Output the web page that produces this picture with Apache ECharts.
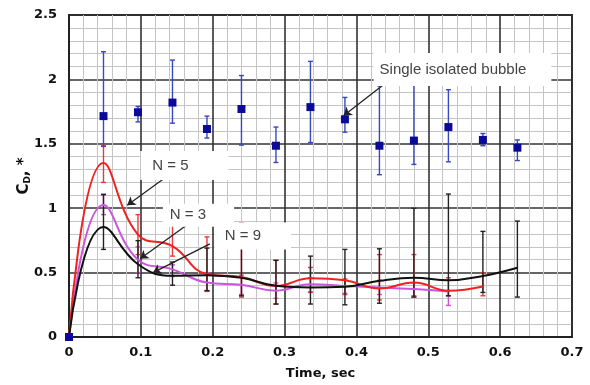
<!DOCTYPE html>
<html>
<head>
<meta charset="utf-8">
<script src="https://cdn.jsdelivr.net/npm/echarts@6/dist/echarts.min.js"></script>
<style>
  html, body { margin: 0; padding: 0; background: #fff; }
  #main { width: 590px; height: 385px; }
</style>
</head>
<body>
<div id="main"></div>
<script>
// sample times (sec)
const times = [0, 0.048, 0.096, 0.144, 0.192, 0.240, 0.288, 0.336, 0.384, 0.432, 0.480, 0.528, 0.576, 0.624];

// single isolated bubble
const bubbleY  = [0, 1.715, 1.745, 1.82, 1.615, 1.77, 1.485, 1.785, 1.69, 1.485, 1.525, 1.63, 1.53, 1.47];
const bubbleHi = [null, 2.215, 1.79, 2.15, 1.715, 2.03, 1.63, 2.14, 1.86, 1.95, 1.985, 1.92, 1.58, 1.53];
const bubbleLo = [null, 1.48, 1.67, 1.66, 1.545, 1.49, 1.355, 1.51, 1.59, 1.26, 1.34, 1.36, 1.485, 1.37];

// N = 5
const n5Y  = [0, 1.35, 0.795, 0.705, 0.487, 0.465, 0.397, 0.456, 0.44, 0.377, 0.423, 0.359, 0.392];
const n5Hi = [null, 1.49, 0.95, 0.87, 0.777, 0.885, 0.595, 0.54, 0.45, 0.64, 0.64, 0.46, 0.5];
const n5Lo = [null, 1.2, 0.64, 0.628, 0.354, 0.31, 0.256, 0.346, 0.33, 0.287, 0.32, 0.32, 0.32];

// N = 3
const n3Y  = [0, 1.025, 0.6, 0.525, 0.423, 0.405, 0.36, 0.41, 0.395, 0.385, 0.372, 0.354];
const n3Hi = [null, 1.1, 0.7, 0.56, 0.5, 0.48, 0.42, 0.46, 0.44, 0.44, 0.42, 0.36];
const n3Lo = [null, 0.95, 0.5, 0.47, 0.36, 0.33, 0.3, 0.35, 0.34, 0.33, 0.31, 0.245];

// N = 9
const n9Y  = [0, 0.854, 0.565, 0.475, 0.48, 0.46, 0.397, 0.385, 0.39, 0.436, 0.46, 0.44, 0.474, 0.538];
const n9Hi = [null, 1.108, 0.748, 0.582, 0.69, 0.69, 0.595, 0.628, 0.68, 0.685, 1.0, 1.11, 0.82, 0.9];
const n9Lo = [null, 0.68, 0.46, 0.402, 0.36, 0.32, 0.256, 0.256, 0.25, 0.262, 0.31, 0.32, 0.346, 0.31];

// annotations: text, box centre, box padding, arrow start, arrow end
const noteText = ['Single isolated bubble', 'N = 5', 'N = 3', 'N = 9'];
const noteBox  = [[0.5476, 2.077], [0.1607, 1.331], [0.1802, 0.946], [0.256, 0.785]];
const notePad  = [[9, 25, 9, 6], [7, 40, 7, 12], [4, 28, 4, 7], [6, 30, 6, 10]];
const noteFrom = [[0.447, 2.0], [0.138, 1.254], [0.164, 0.869], [0.196, 0.723]];
const noteTo   = [[0.382, 1.718], [0.081, 1.023], [0.099, 0.608], [0.117, 0.5]];

function pts(ys) { return ys.map((y, i) => [times[i], y]); }
function bars(lo, hi) {
  const out = [];
  lo.forEach((l, i) => { if (l != null) out.push([times[i], l, hi[i]]); });
  return out;
}
function errSeries(lo, hi, color) {
  return {
    type: 'custom',
    data: bars(lo, hi),
    encode: { x: 0, y: [1, 2] },
    silent: true,
    z: 3,
    renderItem: function (params, api) {
      const x = api.value(0);
      const a = api.coord([x, api.value(2)]);
      const b = api.coord([x, api.value(1)]);
      const w = 2.5;
      const st = { stroke: color, lineWidth: 1.4 };
      return {
        type: 'group',
        children: [
          { type: 'line', shape: { x1: a[0], y1: a[1], x2: b[0], y2: b[1] }, style: st },
          { type: 'line', shape: { x1: a[0] - w, y1: a[1], x2: a[0] + w, y2: a[1] }, style: st },
          { type: 'line', shape: { x1: b[0] - w, y1: b[1], x2: b[0] + w, y2: b[1] }, style: st }
        ]
      };
    }
  };
}
function curve(ys, color) {
  return {
    type: 'line', data: pts(ys), smooth: 0.45, showSymbol: false, z: 4,
    lineStyle: { color: color, width: 2 }
  };
}

const chart = echarts.init(document.getElementById('main'));
const labelFont = { fontFamily: 'DejaVu Sans', fontWeight: 'bold', fontSize: 13, color: '#111' };

chart.setOption({
  animation: false,
  backgroundColor: '#fff',
  grid: { left: 69, right: 18, top: 15, bottom: 45, show: true, borderColor: '#222', borderWidth: 2 },
  xAxis: {
    type: 'value', min: 0, max: 0.7, interval: 0.1,
    name: 'Time, sec', nameLocation: 'middle', nameGap: 30,
    nameTextStyle: { fontFamily: 'DejaVu Sans', fontWeight: 'bold', fontSize: 13, color: '#111' },
    axisLine: { show: true, lineStyle: { color: '#222', width: 2 } },
    axisTick: { show: false },
    axisLabel: Object.assign({ margin: 9, formatter: v => String(Math.round(v * 10) / 10) }, labelFont),
    splitLine: { show: true, lineStyle: { color: '#333', width: 1.6 } },
    minorTick: { show: false, splitNumber: 5 },
    minorSplitLine: { show: true, lineStyle: { color: '#c4c4c4', width: 1 } }
  },
  yAxis: {
    type: 'value', min: 0, max: 2.5, interval: 0.5,
    name: '{c|C}{s|D}{c|, *}', nameLocation: 'middle', nameGap: 37, nameMoveOverlap: false,
    nameTextStyle: {
      rich: {
        c: { fontFamily: 'DejaVu Sans', fontWeight: 'bold', fontSize: 15, color: '#111' },
        s: { fontFamily: 'DejaVu Sans', fontWeight: 'bold', fontSize: 9, color: '#111', padding: [6, 0, 0, 0] }
      }
    },
    axisLine: { show: true, lineStyle: { color: '#222', width: 2 } },
    axisTick: { show: false },
    axisLabel: Object.assign({ margin: 12 }, labelFont),
    splitLine: { show: true, lineStyle: { color: '#333', width: 1.6 } },
    minorTick: { show: false, splitNumber: 5 },
    minorSplitLine: { show: true, lineStyle: { color: '#c4c4c4', width: 1 } }
  },
  series: [
    {
      // white label boxes, kept under the data marks
      type: 'line', data: [], z: 2, silent: true,
      markPoint: {
        silent: true, symbol: 'rect', symbolSize: 0,
        data: noteText.map((t, i) => ({
          coord: noteBox[i], value: t,
          label: {
            show: true, position: 'inside', formatter: t, backgroundColor: '#fff',
            padding: notePad[i], color: '#444',
            fontFamily: 'Liberation Sans', fontSize: 15
          }
        }))
      }
    },
    errSeries(n3Lo, n3Hi, '#cc55cc'),
    errSeries(n5Lo, n5Hi, '#e83a3a'),
    errSeries(n9Lo, n9Hi, '#222'),
    errSeries(bubbleLo, bubbleHi, '#3848c0'),
    curve(n3Y, '#cc55dd'),
    curve(n5Y, '#ee2222'),
    curve(n9Y, '#111111'),
    {
      type: 'scatter', data: pts(bubbleY), symbol: 'rect', symbolSize: 8, z: 5,
      itemStyle: { color: '#0a0a96', opacity: 1 },
      markLine: {
        silent: true, symbol: ['none', 'arrow'], symbolSize: 8,
        label: { show: false },
        lineStyle: { color: '#222', width: 1.3, type: 'solid' },
        data: noteFrom.map((f, i) => [{ coord: f }, { coord: noteTo[i] }])
      }
    }
  ]
});
</script>
</body>
</html>
